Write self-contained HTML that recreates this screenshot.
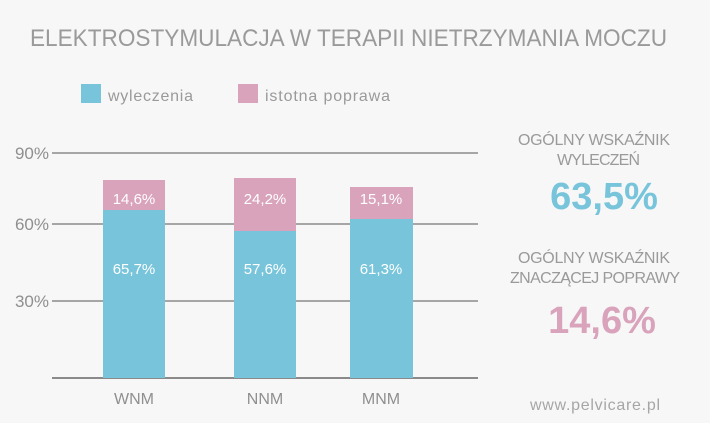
<!DOCTYPE html>
<html><head><style>
body{margin:0;background:#f7f7f7;}
svg{display:block;font-family:"Liberation Sans",sans-serif;}
</style></head><body>
<svg width="710" height="423" xmlns="http://www.w3.org/2000/svg">
<rect width="710" height="423" fill="#f7f7f7"/>
<text x="30" y="46" font-size="24" fill="#9a9a9a" textLength="637" lengthAdjust="spacingAndGlyphs">ELEKTROSTYMULACJA W TERAPII NIETRZYMANIA MOCZU</text>
<rect x="81" y="84" width="20" height="19" fill="#78c5db"/>
<text x="108" y="101" font-size="16" fill="#9a9a9a" textLength="85">wyleczenia</text>
<rect x="238" y="84" width="20" height="19" fill="#d9a3bb"/>
<text x="265" y="101" font-size="16" fill="#9a9a9a" textLength="125">istotna poprawa</text>
<g stroke="#a6a6a6" stroke-width="2">
<line x1="52" y1="153" x2="478" y2="153"/>
<line x1="52" y1="224" x2="478" y2="224"/>
<line x1="52" y1="301" x2="478" y2="301"/>
<line x1="52" y1="378" x2="478" y2="378" stroke="#8a8a8a"/>
</g>
<g font-size="17" fill="#8f8f8f" text-anchor="end">
<text x="49" y="159">90%</text><text x="49" y="230">60%</text><text x="49" y="307">30%</text>
</g>
<g>
<rect x="103" y="180" width="62" height="30" fill="#d9a3bb"/>
<rect x="103" y="210" width="62" height="168" fill="#78c5db"/>
<rect x="234" y="178" width="62" height="53" fill="#d9a3bb"/>
<rect x="234" y="231" width="62" height="147" fill="#78c5db"/>
<rect x="350" y="187" width="63" height="32" fill="#d9a3bb"/>
<rect x="350" y="219" width="63" height="159" fill="#78c5db"/>
</g>
<g font-size="15" fill="#fff" text-anchor="middle">
<text x="134" y="204">14,6%</text><text x="134" y="274">65,7%</text>
<text x="265" y="204">24,2%</text><text x="265" y="274">57,6%</text>
<text x="381" y="204">15,1%</text><text x="381" y="274">61,3%</text>
</g>
<g font-size="16" fill="#8f8f8f" text-anchor="middle">
<text x="134" y="404">WNM</text><text x="265" y="404">NNM</text><text x="381" y="404">MNM</text>
</g>
<g fill="#9a9a9a" font-size="16">
<text x="518" y="145" textLength="152">OGÓLNY WSKAŹNIK</text>
<text x="557" y="165" textLength="83">WYLECZEŃ</text>
<text x="518" y="263" textLength="152">OGÓLNY WSKAŹNIK</text>
<text x="510" y="283" textLength="170">ZNACZĄCEJ POPRAWY</text>
</g>
<text x="604" y="209" text-anchor="middle" font-size="38" font-weight="bold" fill="#78c5db">63,5%</text>
<text x="602" y="333" text-anchor="middle" font-size="38" font-weight="bold" fill="#d9a3bb">14,6%</text>
<text x="595" y="410" text-anchor="middle" font-size="16" fill="#a6a6a6" textLength="130">www.pelvicare.pl</text>
</svg>
</body></html>
